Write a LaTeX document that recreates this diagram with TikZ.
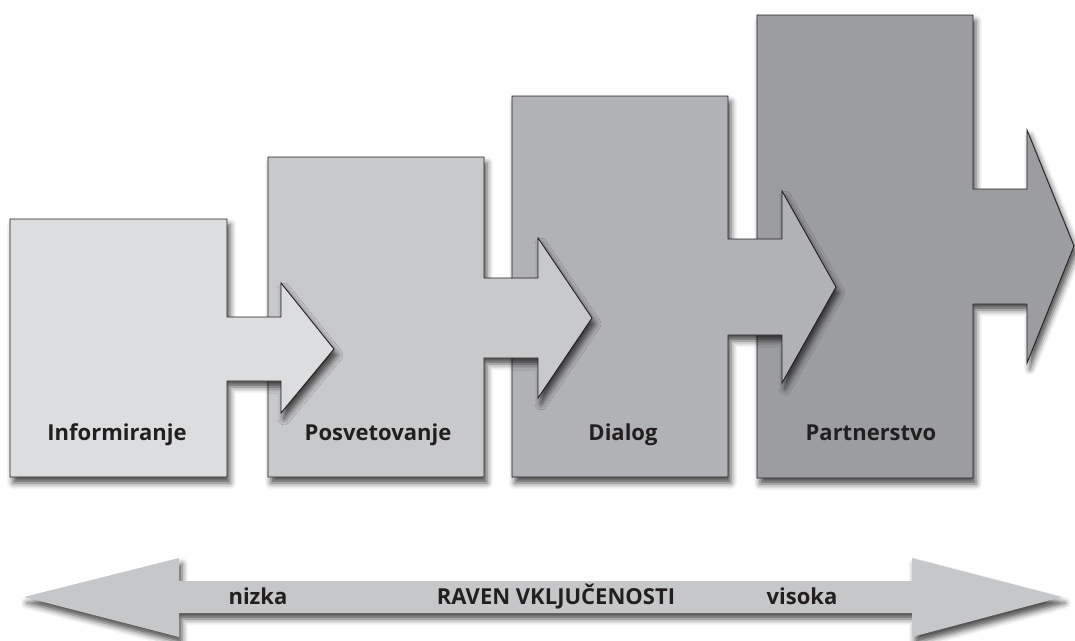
\documentclass[tikz,border=0pt]{standalone}
\usepackage{fontspec}
\setmainfont{Open Sans}
\usetikzlibrary{shadows.blur}
\definecolor{ink}{HTML}{231F20}
\definecolor{cA}{HTML}{DCDDDF}
\definecolor{cB}{HTML}{C8C9CB}
\definecolor{cC}{HTML}{B1B2B5}
\definecolor{cD}{HTML}{9C9DA0}
\definecolor{cE}{HTML}{C6C7C9}
\tikzset{
  shade3d/.style={blur shadow={shadow xshift=3pt, shadow yshift=-6pt, shadow blur radius=6pt, shadow opacity=70}},
  stage/.style={draw=ink, line width=0.9pt, line join=miter, shade3d},
  lbl/.style={anchor=base, text=ink, font=\bfseries\fontsize{22}{25}\selectfont},
}
\begin{document}
\begin{tikzpicture}[x=1pt,y=-1pt]
\useasboundingbox (0,0) rectangle (1075,640);
% stage 4
\path[stage, fill=cD] (757,15) -- (973,15) -- (973,189) -- (1027,189) -- (1027,130) -- (1074,246) -- (1027,363) -- (1027,304) -- (973,304) -- (973,478) -- (757,478) -- cycle;
% stage 3
\path[stage, fill=cC] (512,96) -- (728,96) -- (728,239) -- (782,239) -- (782,191) -- (836,287) -- (782,383) -- (782,335) -- (728,335) -- (728,477) -- (512,477) -- cycle;
% stage 2
\path[stage, fill=cB] (268,157) -- (484,157) -- (484,278) -- (538,278) -- (538,238) -- (592,318) -- (538,398) -- (538,358) -- (484,358) -- (484,477) -- (268,477) -- cycle;
% stage 1
\path[stage, fill=cA] (10,219) -- (227,219) -- (227,317) -- (281,317) -- (281,283) -- (334,349) -- (281,413) -- (281,381) -- (227,381) -- (227,477) -- (10,477) -- cycle;
\node[lbl] (l1) at (117,440) {Informiranje};
\node[lbl] (l2) at (378,440) {Posvetovanje};
\node[lbl] (l3) at (623,440) {Dialog};
\node[lbl] (l4) at (871,440) {Partnerstvo};
% bottom scale arrow
\path[fill=cE, shade3d]
  (24,597) -- (179,558) -- (179,581) -- (912,581) -- (912,558) -- (1062,597) -- (912,637) -- (912,613) -- (179,613) -- (179,637) -- cycle;
\node[lbl] (n1) at (258,604) {nizka};
\node[lbl] (n2) at (556,604) {RAVEN VKLJUČENOSTI};
\node[lbl] (n3) at (802,604) {visoka};
\end{tikzpicture}
\end{document}
